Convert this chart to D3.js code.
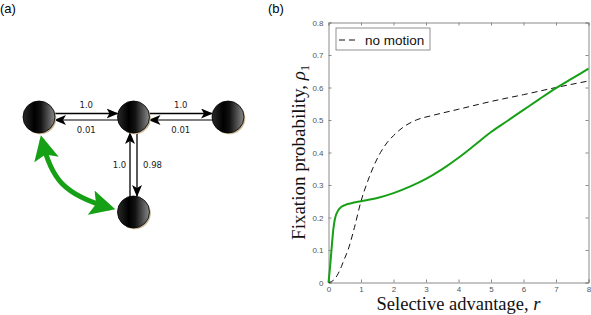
<!DOCTYPE html>
<html><head><meta charset="utf-8">
<script src="https://cdn.jsdelivr.net/npm/d3@7"></script>
<style>html,body{margin:0;padding:0;background:#fff;}svg{display:block;}</style>
</head><body>
<svg id="c" width="591" height="315"></svg>
<script>
// ---- data ----
const rGreen = [0,0.05,0.1,0.15,0.2,0.3,0.4,0.5,0.7,1,1.5,2,2.5,3,3.5,4,4.5,5,5.5,6,6.5,7,7.5,8];
const motion = [0,0.05,0.11,0.165,0.197,0.222,0.233,0.238,0.244,0.25,0.26,0.275,0.295,0.319,0.349,0.384,0.423,0.463,0.497,0.531,0.565,0.598,0.628,0.658];
const rDash = [0,0.1,0.2,0.3,0.4,0.5,0.6,0.8,1,1.2,1.4,1.6,1.8,2,2.3,2.7,3.2,4,5,6,7,8];
const noMotion = [0,0.003,0.012,0.028,0.05,0.075,0.1,0.17,0.25,0.31,0.36,0.4,0.43,0.452,0.478,0.5,0.514,0.533,0.557,0.578,0.6,0.62];
const xTicks = [0,1,2,3,4,5,6,7,8];
const yTicks = [0,0.1,0.2,0.3,0.4,0.5,0.6,0.7,0.8];
const legendLabel = "no motion";
const nodes = [{id:"L",x:0,y:0},{id:"C",x:1,y:0},{id:"R",x:2,y:0},{id:"B",x:1,y:1}];
const edges = [
  {from:"L",to:"C",label:"1.0",side:"top"},
  {from:"C",to:"L",label:"0.01",side:"bottom"},
  {from:"C",to:"R",label:"1.0",side:"top"},
  {from:"R",to:"C",label:"0.01",side:"bottom"},
  {from:"B",to:"C",label:"1.0",side:"left"},
  {from:"C",to:"B",label:"0.98",side:"right"}
];

const svg = d3.select("#c");
const defs = svg.append("defs");

// panel labels
svg.append("text").attr("x",0).attr("y",13).attr("font-family","Liberation Sans, Arial").attr("font-size",13).text("(a)");
svg.append("text").attr("x",268).attr("y",13).attr("font-family","Liberation Sans, Arial").attr("font-size",13).text("(b)");

// ---- panel (a) ----
const gx = d3.scaleLinear().domain([0,2]).range([39,228]);
const gy = d3.scaleLinear().domain([0,1]).range([117,212]);
const R = 16;
const grad = defs.append("linearGradient").attr("id","ng").attr("x1","0").attr("x2","1").attr("y1","0").attr("y2","0");
grad.append("stop").attr("offset","0%").attr("stop-color","#2a2a2a");
grad.append("stop").attr("offset","35%").attr("stop-color","#000");
grad.append("stop").attr("offset","55%").attr("stop-color","#111");
grad.append("stop").attr("offset","100%").attr("stop-color","#8a8a8a");

const mk = defs.append("marker").attr("id","ah").attr("viewBox","0 0 12 10").attr("refX",11).attr("refY",5)
  .attr("markerWidth",12).attr("markerHeight",10).attr("markerUnits","userSpaceOnUse").attr("orient","auto");
mk.append("path").attr("d","M0,0 L12,5 L0,10 L3,5 Z").attr("fill","#000");
const mkg = defs.append("marker").attr("id","gh").attr("viewBox","0 0 10 10").attr("refX",8).attr("refY",5)
  .attr("markerWidth",5).attr("markerHeight",5).attr("orient","auto-start-reverse");
mkg.append("path").attr("d","M0,0 L10,5 L0,10 L2,5 Z").attr("fill","#16a016");

const byId = Object.fromEntries(nodes.map(n=>[n.id,n]));
const ga = svg.append("g");
edges.forEach(e=>{
  const a = byId[e.from], b = byId[e.to];
  let x1=gx(a.x), y1=gy(a.y), x2=gx(b.x), y2=gy(b.y);
  const horiz = a.y===b.y;
  let off, col, lx, ly, anchor="middle";
  if(horiz){
    off = e.side==="top" ? -3.5 : 3;
    y1+=off; y2+=off;
    const dir = Math.sign(x2-x1);
    x1 += dir*(R-1); x2 -= dir*(R);
    col = e.side==="top" ? "#000" : "#555";
    lx=(gx(a.x)+gx(b.x))/2; ly = e.side==="top"? gy(0)-9 : gy(0)+16;
  } else {
    off = e.side==="left" ? -3.5 : 3.5;
    x1+=off; x2+=off;
    const dir = Math.sign(y2-y1);
    y1 += dir*(R-1); y2 -= dir*(R);
    col="#000";
    ly=(gy(a.y)+gy(b.y))/2+3;
    lx = e.side==="left" ? gx(1)-14 : gx(1)+19;
  }
  ga.append("line").attr("x1",x1).attr("y1",y1).attr("x2",x2).attr("y2",y2)
    .attr("stroke",col).attr("stroke-width",1.3).attr("marker-end","url(#ah)");
  ga.append("text").attr("x",lx).attr("y",ly).attr("text-anchor",anchor)
    .attr("font-family","DejaVu Sans, sans-serif").attr("font-size",8.5).attr("fill","#222").text(e.label);
});
nodes.forEach(n=>{
  ga.append("circle").attr("cx",gx(n.x)+1.3).attr("cy",gy(n.y)+1.3).attr("r",R).attr("fill","#c9b896");
  ga.append("circle").attr("cx",gx(n.x)).attr("cy",gy(n.y)).attr("r",R).attr("fill","url(#ng)").attr("stroke","#000").attr("stroke-width",0.8);
});
// green double-headed arrow between L and B
const gp = d3.path();
gp.moveTo(gx(0)+3, gy(0)+R+7);
gp.bezierCurveTo(gx(0)+12, gy(0)+62, gx(0)+25, gy(0)+78, gx(1)-R-7, gy(1)-4);
ga.append("path").attr("d",gp.toString()).attr("fill","none").attr("stroke","#16a016").attr("stroke-width",5)
  .attr("marker-start","url(#gh)").attr("marker-end","url(#gh)");

// ---- panel (b) ----
const x = d3.scaleLinear().domain([0,8]).range([328.5,588.5]);
const y = d3.scaleLinear().domain([0,0.8]).range([282.5,22.5]);
const gb = svg.append("g");
const axCol = "#8a8a8a", lblCol = "#555";
gb.append("g").attr("transform",`translate(0,${y(0)})`).call(d3.axisBottom(x).tickValues(xTicks).tickSize(-3).tickPadding(4).tickFormat(d3.format("d")));
gb.append("g").attr("transform",`translate(0,${y(0.8)})`).call(d3.axisTop(x).tickValues(xTicks).tickSize(-3).tickFormat(""));
gb.append("g").attr("transform",`translate(${x(0)},0)`).call(d3.axisLeft(y).tickValues(yTicks).tickSize(-3).tickPadding(5).tickFormat(d=>d===0?"0":d3.format(".1f")(d)));
gb.append("g").attr("transform",`translate(${x(8)},0)`).call(d3.axisRight(y).tickValues(yTicks).tickSize(-3).tickFormat(""));
gb.selectAll(".domain").attr("stroke",axCol);
gb.selectAll(".tick line").attr("stroke",axCol);
gb.selectAll(".tick text").attr("fill",lblCol).attr("font-size",8).attr("font-family","Liberation Sans, Arial");

const line = d3.line().curve(d3.curveMonotoneX);
gb.append("path").attr("d",line(rDash.map((r,i)=>[x(r),y(noMotion[i])])))
  .attr("fill","none").attr("stroke","#111").attr("stroke-width",1).attr("stroke-dasharray","6,4");
gb.append("path").attr("d",line(rGreen.map((r,i)=>[x(r),y(motion[i])])))
  .attr("fill","none").attr("stroke","#16a016").attr("stroke-width",2);

// legend
gb.append("rect").attr("x",336).attr("y",28).attr("width",94).attr("height",22).attr("fill","#fff").attr("stroke","#777").attr("stroke-width",0.8);
gb.append("line").attr("x1",339).attr("x2",356).attr("y1",40).attr("y2",40).attr("stroke","#111").attr("stroke-dasharray","6,4");
gb.append("text").attr("x",365).attr("y",44.5).attr("font-family","Liberation Sans, Arial").attr("font-size",13.5).attr("fill","#111").text(legendLabel);

// axis titles
const xl = gb.append("text").attr("x",(x(0)+x(8))/2).attr("y",310).attr("text-anchor","middle")
  .attr("font-family","Liberation Serif, Times New Roman, serif").attr("font-size",18.5).attr("fill","#111");
xl.append("tspan").text("Selective advantage, ");
xl.append("tspan").attr("font-style","italic").text("r");
const yl = gb.append("text").attr("transform",`translate(305,${(y(0)+y(0.8))/2}) rotate(-90)`).attr("text-anchor","middle")
  .attr("font-family","Liberation Serif, Times New Roman, serif").attr("font-size",19).attr("fill","#111");
yl.append("tspan").text("Fixation probability, ");
yl.append("tspan").attr("font-style","italic").text("ρ");
yl.append("tspan").attr("font-size",12).attr("dy",4).text("1");
</script>
</body></html>
